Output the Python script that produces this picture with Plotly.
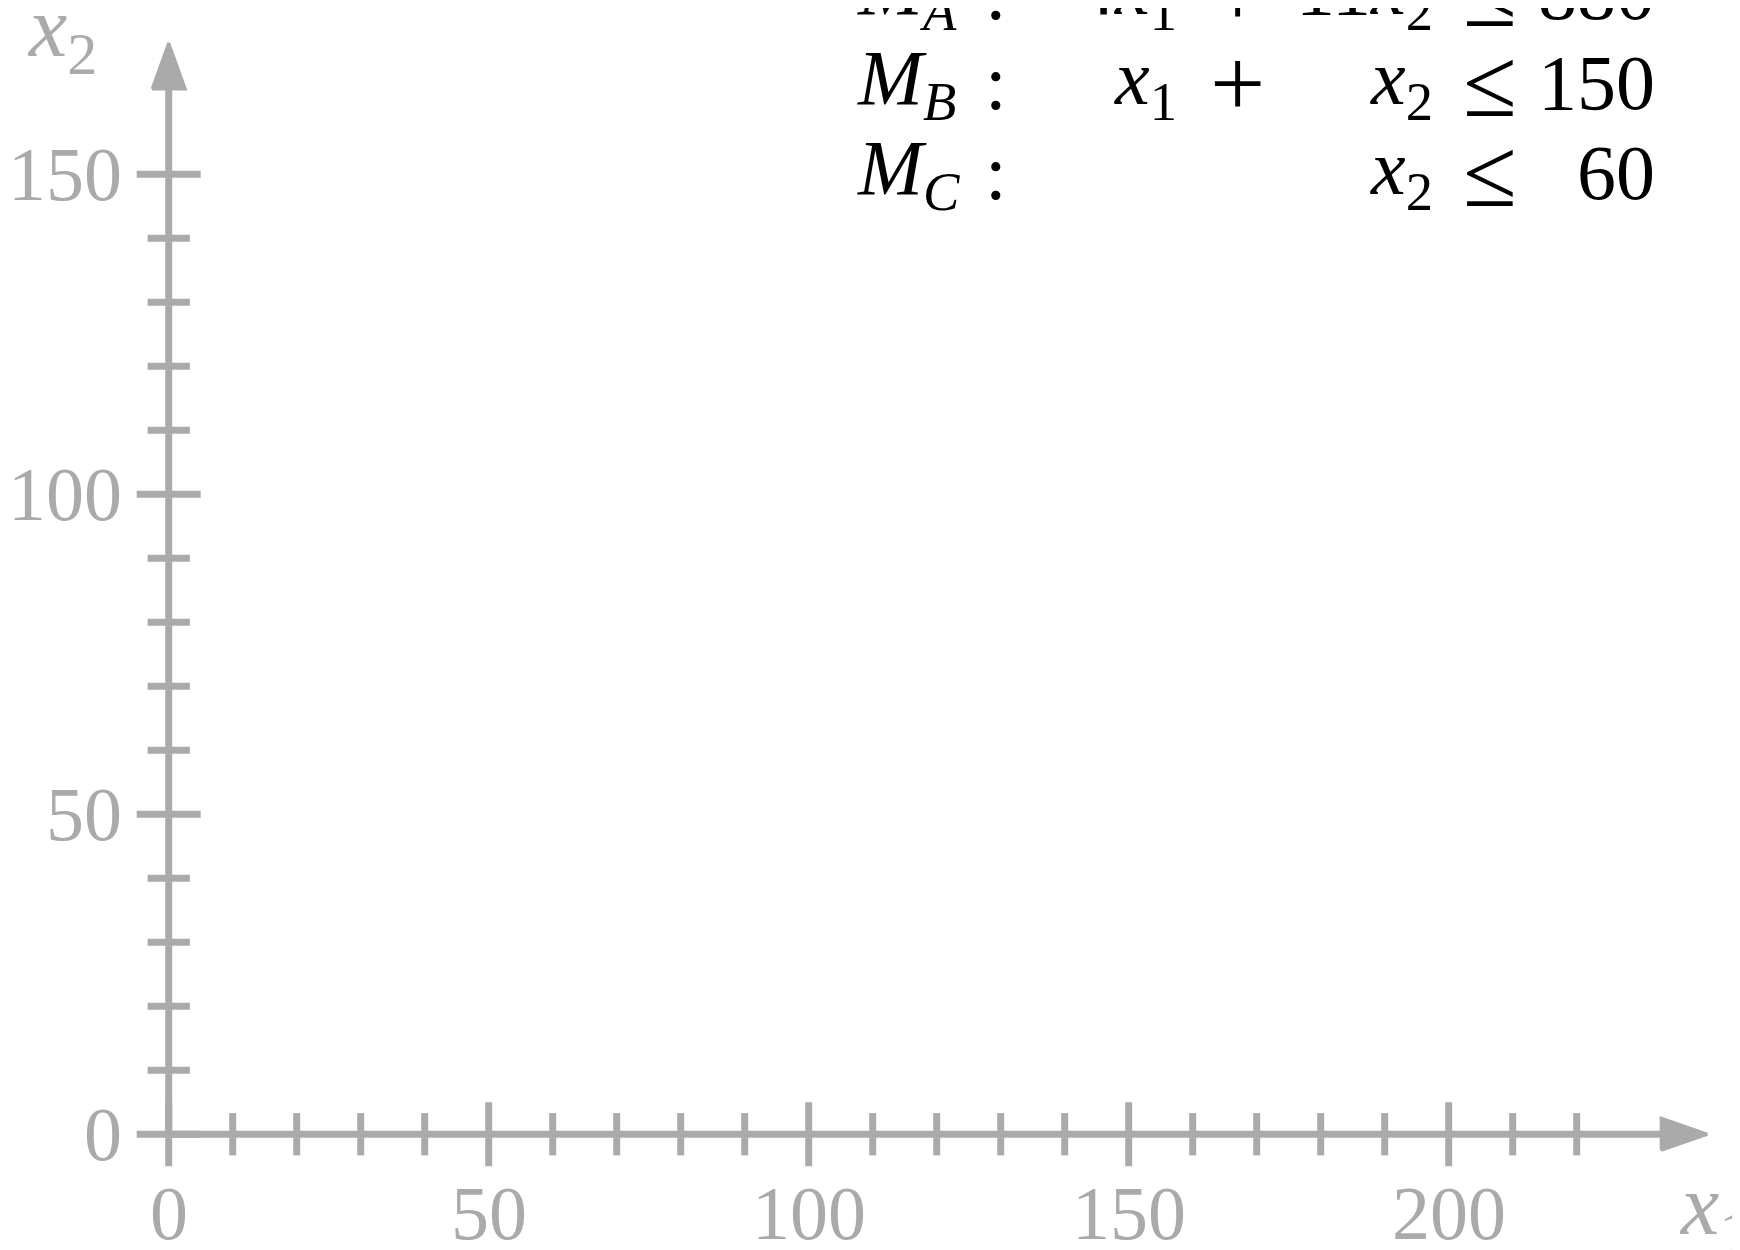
import plotly.graph_objects as go

# axis ticks
x_major = [0, 50, 100, 150, 200]
x_minor = [10, 20, 30, 40, 60, 70, 80, 90, 110, 120, 130, 140, 160, 170, 180, 190, 210, 220]
y_major = [0, 50, 100, 150]
y_minor = [10, 20, 30, 40, 60, 70, 80, 90, 110, 120, 130, 140]
x_tick_labels = ["0", "50", "100", "150", "200"]
y_tick_labels = ["0", "50", "100", "150"]

# constraints: a1*x1 + a2*x2 <= rhs
machines = ["A", "B", "C"]
coef_x1 = [4, 1, 0]
coef_x2 = [11, 1, 1]
rhs = [880, 150, 60]

GRAY = "#aaaaaa"
FONT = "Liberation Serif"
FS = 76
LW = 7

X_END = 233.5
Y_END = 163.6
MAJOR = 5.0
MINOR = 3.3

fig = go.Figure()


def add_line(xs, ys):
    fig.add_trace(go.Scatter(x=xs, y=ys, mode="lines", line=dict(color=GRAY, width=LW),
                             hoverinfo="skip", showlegend=False))


# axis lines
add_line([0, X_END], [0, 0])
add_line([0, 0], [0, Y_END])

# ticks
xs, ys = [], []
for v in x_major:
    xs += [v, v, None]
    ys += [-MAJOR, MAJOR, None]
for v in x_minor:
    xs += [v, v, None]
    ys += [-MINOR, MINOR, None]
for v in y_major:
    xs += [-MAJOR, MAJOR, None]
    ys += [v, v, None]
for v in y_minor:
    xs += [-MINOR, MINOR, None]
    ys += [v, v, None]
add_line(xs, ys)

# arrow heads
fig.add_trace(go.Scatter(x=[X_END - 0.3, 240.4, X_END - 0.3, X_END - 0.3], y=[-2.5, 0, 2.5, -2.5],
                         mode="lines", fill="toself", fillcolor=GRAY,
                         line=dict(color=GRAY, width=3), hoverinfo="skip", showlegend=False))
fig.add_trace(go.Scatter(x=[-2.6, 0, 2.6, -2.6], y=[Y_END - 0.3, 170.5, Y_END - 0.3, Y_END - 0.3],
                         mode="lines", fill="toself", fillcolor=GRAY,
                         line=dict(color=GRAY, width=3), hoverinfo="skip", showlegend=False))

annotations = []
for v, t in zip(x_major, x_tick_labels):
    annotations.append(dict(x=v, y=-12.3, text=t, showarrow=False, xanchor="center", yanchor="middle",
                            font=dict(family=FONT, size=FS, color=GRAY)))
for v, t in zip(y_major, y_tick_labels):
    annotations.append(dict(x=-7.0, y=v, text=t, showarrow=False, xanchor="right", yanchor="middle",
                            font=dict(family=FONT, size=FS, color=GRAY)))

# axis titles
annotations.append(dict(x=-22.5, y=172.0, text="<i>x</i><sub>2</sub>", showarrow=False,
                        xanchor="left", yanchor="middle", font=dict(family=FONT, size=86, color=GRAY)))
annotations.append(dict(x=235.6, y=-12.0, text="<i>x</i><sub>1</sub>", showarrow=False,
                        xanchor="left", yanchor="middle", font=dict(family=FONT, size=86, color=GRAY)))


# constraint block
def term(c, var):
    if c == 0:
        return ""
    coef = "" if c == 1 else str(c)
    return f"{coef}<i>x</i><sub>{var}</sub>"


ROW_Y = 164.3
ROW_STEP = 90
black = dict(family=FONT, size=78, color="black")
sym = dict(family=FONT, size=98, color="black")
for i, m in enumerate(machines):
    shift = (1 - i) * ROW_STEP
    base = dict(y=ROW_Y, yshift=shift, showarrow=False, yanchor="middle", font=black)
    annotations.append(dict(base, x=107.3, xanchor="left", text=f"<i>M</i><sub><i>{m}</i></sub>"))
    annotations.append(dict(base, x=129.3, xanchor="center", text=":"))
    t1 = term(coef_x1[i], 1)
    if t1:
        annotations.append(dict(base, x=157.8, xanchor="right", text=t1))
        annotations.append(dict(base, x=167.0, xanchor="center", text="+", font=sym))
    annotations.append(dict(base, x=197.8, xanchor="right", text=term(coef_x2[i], 2)))
    annotations.append(dict(base, x=206.4, xanchor="center", text="≤", font=sym))
    annotations.append(dict(base, x=232.6, xanchor="right", text=str(rhs[i])))

# page body adds an 8px offset, so the ranges are set to put the origin where the reference has it
fig.update_layout(
    width=1740,
    height=1250,
    margin=dict(l=0, r=0, t=0, b=0),
    paper_bgcolor="white",
    plot_bgcolor="white",
    xaxis=dict(range=[-25.11, 246.77], visible=False, fixedrange=True),
    yaxis=dict(range=[-19.34, 175.97], visible=False, fixedrange=True),
    annotations=annotations,
    showlegend=False,
)

fig.write_html("out.html")
